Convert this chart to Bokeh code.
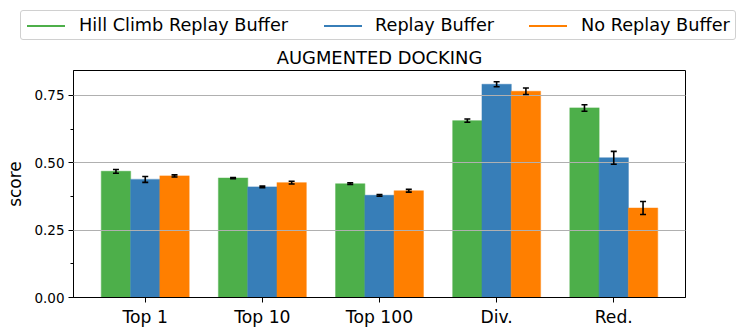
from bokeh.plotting import figure
from bokeh.layouts import column
from bokeh.models import (ColumnDataSource, FixedTicker, Whisker, TeeHead,
                          Range1d, NumeralTickFormatter, Div)
from bokeh.embed import file_html
from bokeh.resources import INLINE

categories = ["Top 1", "Top 10", "Top 100", "Div.", "Red."]
series_names = ["Hill Climb Replay Buffer", "Replay Buffer", "No Replay Buffer"]
hill_climb = [0.468, 0.443, 0.422, 0.656, 0.703]
hill_climb_err = [0.007, 0.002, 0.003, 0.006, 0.012]
replay = [0.438, 0.410, 0.379, 0.791, 0.518]
replay_err = [0.011, 0.003, 0.003, 0.009, 0.024]
no_replay = [0.451, 0.426, 0.396, 0.765, 0.332]
no_replay_err = [0.004, 0.005, 0.005, 0.012, 0.024]
y_ticks = [0.0, 0.25, 0.5, 0.75]
y_minor_ticks = [0.125, 0.375, 0.625]

colors = ["#4daf4a", "#377eb8", "#ff7f00"]
offsets = [-0.25, 0.0, 0.25]
bar_w = 0.25
FONT = "DejaVu Sans"
W = 740

# ---- legend strip (HTML, real text) ----
glyph_lefts = [6, 303, 508]
label_lefts = [58, 354, 560]
items_html = ""
for col, name, gl, ll in zip(colors, series_names, glyph_lefts, label_lefts):
    items_html += (
        f'<span style="position:absolute;left:{gl}px;top:14px;width:38px;'
        f'height:0;border-top:2.5px solid {col};"></span>'
        f'<span style="position:absolute;left:{ll}px;top:3px;line-height:22px;'
        f'font-size:17.7px;color:black;white-space:nowrap;">{name}</span>'
    )
legend_html = (
    f'<div style="position:relative;width:{W}px;height:42px;'
    f"font-family:'{FONT}';\">"
    '<div style="position:absolute;left:20px;top:10px;width:716px;height:30px;'
    'box-sizing:border-box;border:1px solid #d0d0d0;border-radius:3px;'
    'background:white;">'
    + items_html +
    '</div></div>'
)
legend_div = Div(text=legend_html, width=W, height=42, margin=0)

# ---- main plot ----
p = figure(width=W, height=288, output_backend="svg", toolbar_location=None,
           x_range=Range1d(-0.6125, 4.6125), y_range=Range1d(0, 0.842),
           min_border_left=73, min_border_right=55, min_border_top=27,
           min_border_bottom=33, margin=0)

p.title.text = "AUGMENTED DOCKING"
p.title.align = "center"
p.title.text_font = FONT
p.title.text_font_style = "normal"
p.title.text_font_size = "17.9px"
p.title.text_color = "black"
p.title.standoff = 5

idx = list(range(len(categories)))
for vals, errs, col, off in zip([hill_climb, replay, no_replay],
                                [hill_climb_err, replay_err, no_replay_err],
                                colors, offsets):
    xs = [i + off for i in idx]
    src = ColumnDataSource(dict(x=xs, top=vals,
                                upper=[v + e for v, e in zip(vals, errs)],
                                lower=[v - e for v, e in zip(vals, errs)]))
    p.vbar(x="x", top="top", width=bar_w, source=src, fill_color=col,
           line_color=col, line_alpha=0.45, line_width=1.2)
    w = Whisker(base="x", upper="upper", lower="lower", source=src,
                line_color="black", line_width=1.6,
                upper_head=TeeHead(size=6, line_color="black", line_width=1.6),
                lower_head=TeeHead(size=6, line_color="black", line_width=1.6))
    w.level = "overlay"
    p.add_layout(w)

# axes
p.xaxis.ticker = FixedTicker(ticks=idx)
p.xaxis.major_label_overrides = {i: c for i, c in zip(idx, categories)}
p.xaxis.major_label_text_font = FONT
p.xaxis.major_label_text_font_size = "17.2px"
p.xaxis.major_label_text_color = "black"
p.xaxis.major_tick_out = 5
p.xaxis.major_tick_in = 0
p.xaxis.minor_tick_out = 0
p.xaxis.major_label_standoff = 4
p.xaxis.axis_line_color = "black"
p.xaxis.major_tick_line_color = "black"

p.yaxis.ticker = FixedTicker(ticks=y_ticks, minor_ticks=y_minor_ticks)
p.yaxis.formatter = NumeralTickFormatter(format="0.00")
p.yaxis.major_label_text_font = FONT
p.yaxis.major_label_text_font_size = "13.5px"
p.yaxis.major_label_text_color = "black"
p.yaxis.major_tick_out = 5
p.yaxis.major_tick_in = 0
p.yaxis.minor_tick_out = 3
p.yaxis.minor_tick_in = 0
p.yaxis.major_label_standoff = 4
p.yaxis.axis_label = "score"
p.yaxis.axis_label_text_font = FONT
p.yaxis.axis_label_text_font_size = "17px"
p.yaxis.axis_label_text_font_style = "normal"
p.yaxis.axis_label_text_color = "black"
p.yaxis.axis_label_standoff = 6
p.yaxis.axis_line_color = "black"

p.xgrid.visible = False
p.ygrid.ticker = FixedTicker(ticks=[0.25, 0.5, 0.75])
p.ygrid.grid_line_color = "#b0b0b0"
p.ygrid.grid_line_width = 1
p.ygrid.level = "annotation"

p.outline_line_color = "black"
p.outline_line_width = 1
p.outline_line_alpha = 1

layout = column(legend_div, p, spacing=0)
open("out.html", "w").write(file_html(layout, INLINE))
